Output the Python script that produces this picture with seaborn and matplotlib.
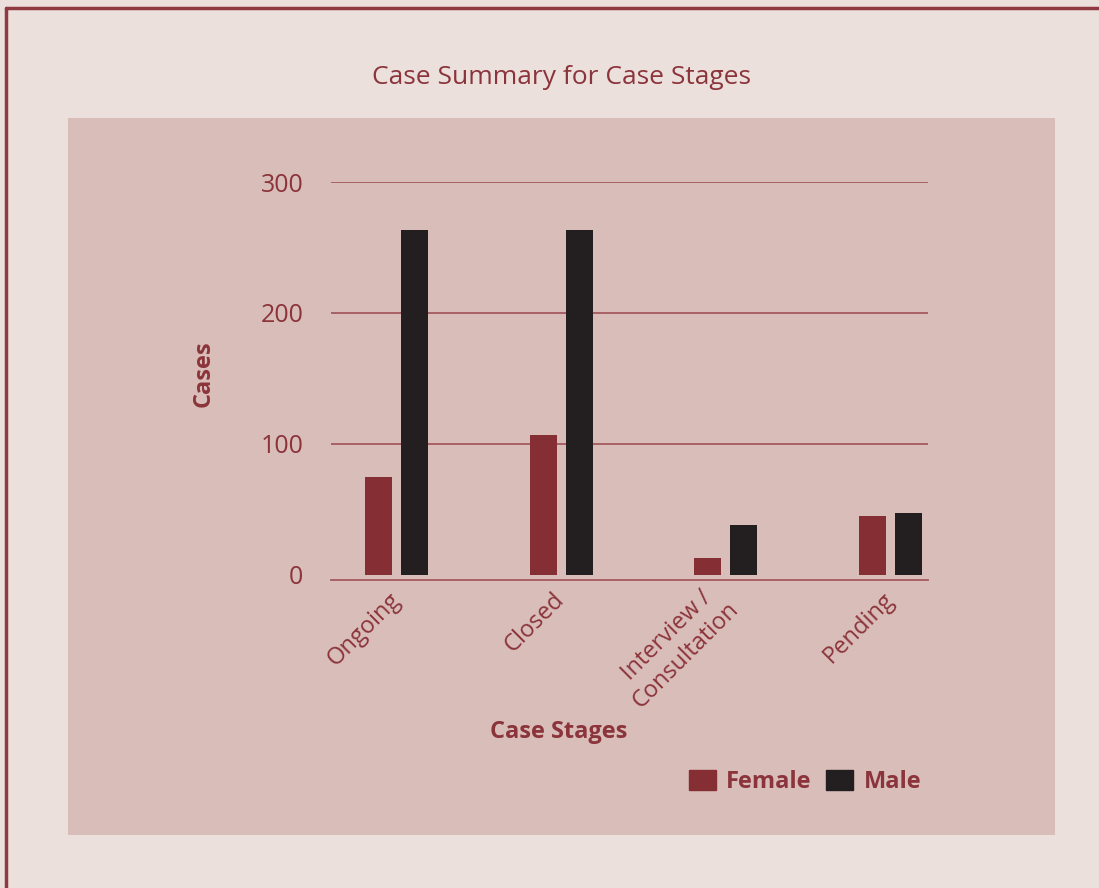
import pandas as pd
import matplotlib.pyplot as plt
from matplotlib.patches import Rectangle
from matplotlib.lines import Line2D
import seaborn as sns

# values
stages = ["Ongoing", "Closed", "Interview /\nConsultation", "Pending"]
female = [75, 107, 13, 45]
male = [263, 263, 38, 47]
y_ticks = [0, 100, 200, 300]

text_color = "#8B343B"
female_color = "#852F35"
male_color = "#231F20"
outer_bg = "#EBE0DC"
panel_bg = "#D9BDB9"
grid_color = "#A45A5F"

sns.set_style("white")
plt.rcParams["font.family"] = ["Open Sans", "DejaVu Sans"]

# long form table for seaborn
df = pd.DataFrame({
    "stage": stages * 2,
    "cases": female + male,
    "gender": ["Female"] * len(stages) + ["Male"] * len(stages),
})

fig = plt.figure(figsize=(10.99, 8.88), dpi=100, facecolor=outer_bg)

# inner panel and the frame lines on the left and top
fig.patches.append(Rectangle((68 / 1099, 1 - 835 / 888), (1055 - 68) / 1099, (835 - 118) / 888,
                             transform=fig.transFigure, facecolor=panel_bg, edgecolor="none", zorder=-5))
fig.add_artist(Line2D([5.5 / 1099, 5.5 / 1099], [0, 1 - 8.5 / 888], transform=fig.transFigure,
                      color="#8E3A40", lw=2.5))
fig.add_artist(Line2D([5.5 / 1099, 1], [1 - 8.5 / 888, 1 - 8.5 / 888], transform=fig.transFigure,
                      color="#8E3A40", lw=2.5))

ax = fig.add_axes([331 / 1099, 1 - 579.5 / 888, (928 - 331) / 1099, (579.5 - 182) / 888])
ax.set_facecolor("none")
ax.set_zorder(2)

sns.barplot(data=df, x="stage", y="cases", hue="gender", palette=[female_color, male_color],
            width=0.44, gap=0.25, saturation=1, linewidth=0, ax=ax, legend=False)

ax.set_xlim(-0.40, 3.23)
ax.set_ylim(-3.5, 300)
ax.set_yticks(y_ticks)
ax.yaxis.grid(True, color=grid_color, lw=1.3)
ax.get_ygridlines()[0].set_visible(False)  # the baseline is drawn by the spine
ax.set_axisbelow(True)
for side in ["top", "right", "left"]:
    ax.spines[side].set_visible(False)
ax.spines["bottom"].set_color(grid_color)
ax.spines["bottom"].set_linewidth(1.3)

ax.tick_params(axis="y", length=0, pad=20, labelsize=18, labelcolor=text_color)
ax.tick_params(axis="x", length=0, pad=12, labelsize=17, labelcolor=text_color)
for lab in ax.get_xticklabels():
    lab.set_rotation(45)
    lab.set_ha("right")
    lab.set_va("center")
    lab.set_rotation_mode("anchor")
    lab.set_multialignment("center")

ax.set_xlabel("Case Stages", fontsize=17, fontweight="bold", color=text_color)
ax.set_ylabel("Cases", fontsize=17, fontweight="bold", color=text_color)
ax.xaxis.set_label_coords(0.382, -0.353)
ax.yaxis.set_label_coords(-0.194, 0.518)

fig.text(561 / 1099, 1 - 77 / 888, "Case Summary for Case Stages", ha="center", va="center",
         fontsize=19, color=text_color)

handles = [Rectangle((0, 0), 1, 1, color=female_color), Rectangle((0, 0), 1, 1, color=male_color)]
ax.legend(handles, ["Female", "Male"], loc="center", bbox_to_anchor=(805 / 1099, 1 - 782 / 888),
          bbox_transform=fig.transFigure, ncol=2, frameon=False, handlelength=1.15, handleheight=0.93,
          handletextpad=0.45, columnspacing=0.6, labelcolor=text_color,
          prop={"size": 17, "weight": "bold", "family": ["Open Sans", "DejaVu Sans"]})

fig.savefig("out.png", dpi=100, facecolor=outer_bg)
